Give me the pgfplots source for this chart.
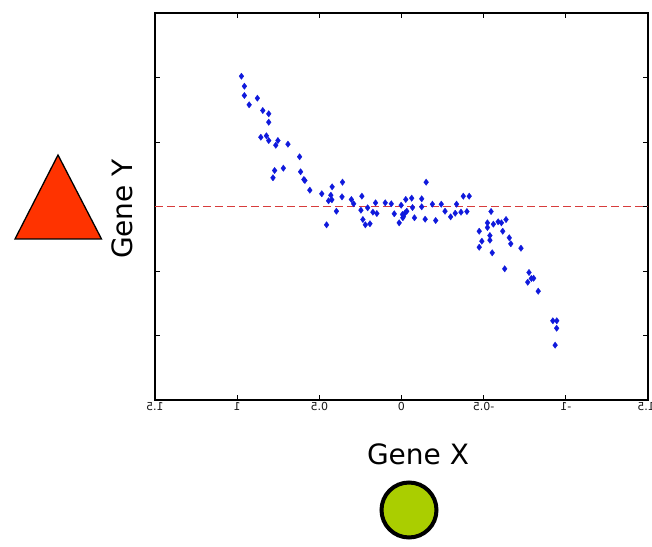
\documentclass[border=0pt]{standalone}
\usepackage{graphicx}
\usepackage{fontspec}
\setmainfont{DejaVu Sans}
\usepackage{pgfplots}
\pgfplotsset{compat=1.18}
\newcommand\mir[1]{\scalebox{-1}[1]{#1}}
\definecolor{ptblue}{RGB}{15,25,220}
\definecolor{dashred}{RGB}{215,60,60}
\definecolor{trired}{RGB}{255,51,0}
\definecolor{circgreen}{RGB}{170,206,0}
\begin{document}
\begin{tikzpicture}[x=1pt,y=1pt]
\useasboundingbox (0,0) rectangle (652,546);
\begin{axis}[
  at={(155pt,146pt)}, anchor=south west,
  width=493pt, height=387pt, scale only axis,
  xmin=-1.5, xmax=1.5, x dir=reverse,
  ymin=-3, ymax=3,
  xtick={-1.5,-1,-0.5,0,0.5,1,1.5},
  xticklabels={\mir{-1.5},\mir{-1},\mir{-0.5},\mir{0},\mir{0.5},\mir{1},\mir{1.5}},
  ytick={-3,-2,-1,0,1,2,3},
  yticklabels={},
  tick align=inside,
  major tick length=5pt,
  tick style={black, line width=0.8pt},
  axis line style={black, line width=1.1pt},
  xticklabel style={font=\fontsize{11}{11}\selectfont, text=black!90, inner sep=1pt, yshift=-1.5pt},
  clip=false,
]
\addplot[dashred, line width=0.9pt, dash pattern=on 8pt off 4pt, forget plot] coordinates {(1.5,0) (-1.5,0)};
\addplot[only marks, mark=diamond*, mark size=3.2pt, ptblue, mark options={fill=ptblue, draw=ptblue, line width=0.3pt}] coordinates {
(0.974,2.020) (0.956,1.865) (0.956,1.721) (0.927,1.577) (0.877,1.679)
(0.844,1.488) (0.808,1.437) (0.808,1.307) (0.856,1.074) (0.822,1.096)
(0.808,1.023) (0.752,1.023) (0.765,0.950) (0.691,0.966) (0.620,0.771)
(0.772,0.558) (0.719,0.594) (0.782,0.445) (0.614,0.538) (0.594,0.419)
(0.588,0.403) (0.558,0.253) (0.485,0.197) (0.422,0.305) (0.430,0.175)
(0.359,0.377) (0.362,0.150) (0.444,0.088) (0.424,0.104) (0.396,-0.073)
(0.456,-0.284) (0.305,0.109) (0.291,0.042) (0.241,0.160) (0.247,-0.057)
(0.235,-0.202) (0.206,-0.020) (0.220,-0.284) (0.192,-0.268) (0.174,-0.088)
(0.150,-0.109) (0.158,0.057) (0.099,0.057) (0.062,0.042) (0.044,-0.113)
(0.014,-0.253) (0.002,0.020) (-0.026,0.109) (-0.062,0.129) (-0.006,-0.124)
(-0.012,-0.155) (-0.022,-0.098) (-0.032,-0.073) (-0.008,-0.175) (-0.067,-0.016)
(-0.079,-0.175) (-0.123,0.119) (-0.123,-0.005) (-0.144,-0.197) (-0.150,0.377)
(-0.188,0.036) (-0.208,-0.217) (-0.242,0.036) (-0.265,-0.073) (-0.299,-0.160)
(-0.327,-0.104) (-0.335,0.036) (-0.362,-0.088) (-0.376,0.160) (-0.412,0.160)
(-0.398,-0.078) (-0.545,-0.078) (-0.473,-0.383) (-0.489,-0.538) (-0.473,-0.631)
(-0.523,-0.253) (-0.523,-0.326) (-0.538,-0.450) (-0.538,-0.522) (-0.552,-0.718)
(-0.559,-0.274) (-0.588,-0.237) (-0.608,-0.253) (-0.636,-0.202) (-0.616,-0.383)
(-0.656,-0.485) (-0.665,-0.578) (-0.727,-0.647) (-0.628,-0.966) (-0.776,-1.023)
(-0.790,-1.116) (-0.804,-1.112) (-0.768,-1.174) (-0.832,-1.313) (-0.921,-1.772)
(-0.945,-1.772) (-0.944,-1.887) (-0.935,-2.150)
};
\end{axis}
% axis titles
\node[rotate=90, font=\fontsize{28}{28}\selectfont, inner sep=0pt] at (122,337) {Gene Y};
\node[font=\fontsize{28}{28}\selectfont, inner sep=0pt] at (418,92) {Gene X};
% decorative shapes
\filldraw[fill=trired, draw=black, line width=1.3pt, line join=miter] (58,391) -- (15,307) -- (101.5,307) -- cycle;
\filldraw[fill=circgreen, draw=black, line width=4pt] (409,36) circle (27.5);
\end{tikzpicture}
\end{document}
